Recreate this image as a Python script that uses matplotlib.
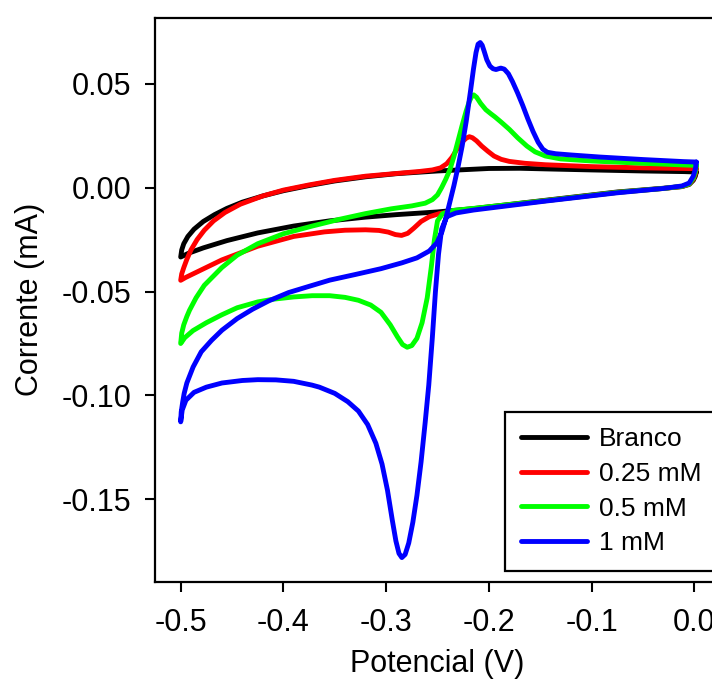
import matplotlib
matplotlib.use("Agg")
import matplotlib.pyplot as plt
from matplotlib.ticker import FormatStrFormatter

plt.rcParams['font.family'] = ['Liberation Sans', 'DejaVu Sans']
plt.rcParams['axes.unicode_minus'] = False

labels = ["Branco", "0.25 mM", "0.5 mM", "1 mM"]
colors = ["#000000", "#ff0000", "#00ff00", "#0000ff"]

# each loop: 0 V -> -0.5 V (cathodic sweep) -> back to 0 V (anodic sweep)
branco_v = [0.002, 0.001, -0.001, -0.005, -0.012, -0.030, -0.075, -0.145, -0.215, -0.250,
            -0.290, -0.320, -0.355, -0.390, -0.425, -0.455, -0.478, -0.492, -0.500,
            -0.499, -0.497, -0.493, -0.487, -0.478, -0.467, -0.455, -0.440, -0.420, -0.400,
            -0.375, -0.350, -0.320, -0.290, -0.250, -0.200, -0.170, -0.145, -0.100, -0.050,
            -0.010, 0.002]
branco_i = [0.0075, 0.0055, 0.0035, 0.0015, 0.0005, -0.0003, -0.0021, -0.0061, -0.0101, -0.0117,
            -0.0130, -0.0142, -0.0160, -0.0185, -0.0218, -0.0255, -0.0290, -0.0315, -0.0334,
            -0.0300, -0.0270, -0.0235, -0.0200, -0.0163, -0.0130, -0.0100, -0.0070, -0.0040, -0.0015,
            0.0010, 0.0032, 0.0052, 0.0067, 0.0080, 0.0092, 0.0093, 0.0090, 0.0085, 0.0080,
            0.0077, 0.0075]

r025_v = [0.002, 0.001, -0.001, -0.005, -0.012, -0.030, -0.075, -0.145, -0.215, -0.235,
          -0.248, -0.258, -0.266, -0.273, -0.279, -0.285, -0.291, -0.298, -0.307, -0.320,
          -0.340, -0.360, -0.390, -0.425, -0.460, -0.485, -0.495, -0.500,
          -0.499, -0.497, -0.494, -0.490, -0.484, -0.477, -0.468, -0.457, -0.442, -0.420,
          -0.400, -0.375, -0.350, -0.320, -0.290, -0.267, -0.255, -0.247, -0.241, -0.236,
          -0.231, -0.226, -0.222, -0.219, -0.216, -0.212, -0.207, -0.201, -0.195, -0.188,
          -0.180, -0.165, -0.145, -0.100, -0.050, -0.010, 0.002]
r025_i = [0.0091, 0.0065, 0.0040, 0.0017, 0.0005, -0.0004, -0.0023, -0.0063, -0.0103, -0.0115,
          -0.0125, -0.0140, -0.0163, -0.0195, -0.0220, -0.0230, -0.0226, -0.0214, -0.0206, -0.0203,
          -0.0205, -0.0213, -0.0235, -0.0282, -0.0348, -0.0408, -0.0432, -0.0446,
          -0.0415, -0.0385, -0.0345, -0.0300, -0.0250, -0.0205, -0.0160, -0.0120, -0.0080, -0.0040,
          -0.0012, 0.0013, 0.0035, 0.0055, 0.0068, 0.0078, 0.0085, 0.0095, 0.0115, 0.0145,
          0.0185, 0.0220, 0.0238, 0.0245, 0.0240, 0.0225, 0.0200, 0.0175, 0.0152, 0.0136,
          0.0126, 0.0117, 0.0110, 0.0101, 0.0095, 0.0092, 0.0091]

r05_v = [0.002, 0.001, -0.001, -0.005, -0.012, -0.030, -0.075, -0.145, -0.215, -0.235,
         -0.245, -0.250, -0.253, -0.256, -0.260, -0.265, -0.270, -0.275, -0.2795, -0.284,
         -0.289, -0.296, -0.305, -0.315, -0.327, -0.340, -0.355, -0.372, -0.390, -0.410,
         -0.425, -0.445, -0.460, -0.475, -0.488, -0.496, -0.500,
         -0.499, -0.497, -0.494, -0.4914, -0.485, -0.477, -0.468, -0.460, -0.445, -0.425,
         -0.400, -0.372, -0.345, -0.320, -0.295, -0.275, -0.262, -0.255, -0.250, -0.246,
         -0.242, -0.238, -0.234, -0.230, -0.226, -0.222, -0.219, -0.2165, -0.2147, -0.212,
         -0.208, -0.203, -0.198, -0.194, -0.188, -0.180, -0.172, -0.163, -0.155, -0.145,
         -0.130, -0.100, -0.050, -0.010, 0.002]
r05_i = [0.0107, 0.0075, 0.0045, 0.0018, 0.0006, -0.0004, -0.0023, -0.0063, -0.0100, -0.0110,
         -0.0125, -0.0160, -0.0250, -0.0380, -0.0530, -0.0650, -0.0725, -0.0760, -0.0768, -0.0755,
         -0.0718, -0.0660, -0.0600, -0.0565, -0.0542, -0.0528, -0.0520, -0.0520, -0.0526, -0.0537,
         -0.0550, -0.0578, -0.0612, -0.0650, -0.0688, -0.0722, -0.0750,
         -0.0700, -0.0660, -0.0620, -0.0590, -0.0530, -0.0470, -0.0425, -0.0385, -0.0325, -0.0270,
         -0.0222, -0.0185, -0.0152, -0.0125, -0.0102, -0.0088, -0.0075, -0.0058, -0.0035, 0.0000,
         0.0040, 0.0085, 0.0150, 0.0225, 0.0300, 0.0370, 0.0415, 0.0440, 0.0446, 0.0435,
         0.0405, 0.0375, 0.0355, 0.0340, 0.0315, 0.0280, 0.0240, 0.0200, 0.0172, 0.0152,
         0.0138, 0.0128, 0.0117, 0.0109, 0.0107]

r1_v = [0.002, 0.001, -0.001, -0.005, -0.012, -0.030, -0.075, -0.145, -0.215, -0.232,
        -0.241, -0.246, -0.249, -0.252, -0.255, -0.2585, -0.262, -0.266, -0.270, -0.274,
        -0.278, -0.2815, -0.2847, -0.2875, -0.2905, -0.294, -0.2987, -0.304, -0.310, -0.318,
        -0.327, -0.3373, -0.350, -0.365, -0.3723, -0.390, -0.4073, -0.425, -0.440, -0.4598,
        -0.475, -0.487, -0.4949, -0.4985, -0.500,
        -0.4995, -0.498, -0.4966, -0.494, -0.4879, -0.480, -0.470, -0.4598, -0.445, -0.430,
        -0.4143, -0.395, -0.375, -0.3548, -0.330, -0.305, -0.2847, -0.270, -0.258, -0.2505,
        -0.2455, -0.242, -0.238, -0.234, -0.230, -0.226, -0.222, -0.218, -0.215, -0.2125,
        -0.2105, -0.2084, -0.2065, -0.2045, -0.202, -0.199, -0.196, -0.193, -0.1905, -0.1884,
        -0.185, -0.181, -0.177, -0.172, -0.167, -0.162, -0.157, -0.152, -0.1475, -0.143,
        -0.135, -0.120, -0.0917, -0.050, -0.010, 0.002]
r1_i = [0.0123, 0.0090, 0.0055, 0.0022, 0.0008, -0.0004, -0.0025, -0.0065, -0.0108, -0.0122,
        -0.0140, -0.0200, -0.0320, -0.0500, -0.0720, -0.0950, -0.1130, -0.1320, -0.1480, -0.1610,
        -0.1710, -0.1765, -0.1780, -0.1760, -0.1700, -0.1600, -0.1456, -0.1330, -0.1230, -0.1140,
        -0.1075, -0.1030, -0.0990, -0.0960, -0.0950, -0.0932, -0.0925, -0.0924, -0.0928, -0.0940,
        -0.0960, -0.0985, -0.1023, -0.1070, -0.1127,
        -0.1080, -0.1030, -0.0990, -0.0940, -0.0863, -0.0790, -0.0735, -0.0686, -0.0630, -0.0585,
        -0.0545, -0.0505, -0.0475, -0.0445, -0.0418, -0.0390, -0.0362, -0.0338, -0.0305, -0.0265,
        -0.0210, -0.0150, -0.0070, 0.0010, 0.0100, 0.0200, 0.0320, 0.0460, 0.0570, 0.0650,
        0.0690, 0.0698, 0.0685, 0.0655, 0.0615, 0.0585, 0.0572, 0.0568, 0.0572, 0.0575,
        0.0570, 0.0548, 0.0510, 0.0455, 0.0395, 0.0330, 0.0270, 0.0218, 0.0185, 0.0170,
        0.0163, 0.0157, 0.0147, 0.0135, 0.0125, 0.0123]

series_v = [branco_v, r025_v, r05_v, r1_v]
series_i = [branco_i, r025_i, r05_i, r1_i]

fig = plt.figure(figsize=(7.12, 6.91), dpi=100)
ax = fig.add_axes([155 / 712, 109.3 / 691, 565 / 712, 563.7 / 691])

for v, i, c, lab in zip(series_v, series_i, colors, labels):
    ax.plot(v, i, color=c, lw=3.5, label=lab, solid_joinstyle='round', solid_capstyle='round')

ax.set_xlim(-0.525, 0.025)
ax.set_ylim(-0.1896, 0.0816)
ax.set_xticks([-0.5, -0.4, -0.3, -0.2, -0.1, 0.0])
ax.set_yticks([-0.15, -0.10, -0.05, 0.00, 0.05])
ax.xaxis.set_major_formatter(FormatStrFormatter('%.1f'))
ax.yaxis.set_major_formatter(FormatStrFormatter('%.2f'))

for s in ax.spines.values():
    s.set_linewidth(1.6)
ax.tick_params(direction='out', length=7, width=1.5, labelsize=22, top=False, right=False)
ax.tick_params(axis='y', pad=10)
ax.tick_params(axis='x', pad=12)

ax.set_xlabel("Potencial (V)", fontsize=22, labelpad=8)
ax.set_ylabel("Corrente (mA)", fontsize=22, labelpad=12)

leg = ax.legend(loc='lower left', bbox_to_anchor=(0.6195, 0.019), borderaxespad=0,
                fontsize=19, handlelength=2.5, handletextpad=0.45, labelspacing=0.4,
                borderpad=0.6, fancybox=False, framealpha=1)
leg.get_frame().set_edgecolor('black')
leg.get_frame().set_linewidth(1.6)

fig.savefig("out.png", dpi=100)
